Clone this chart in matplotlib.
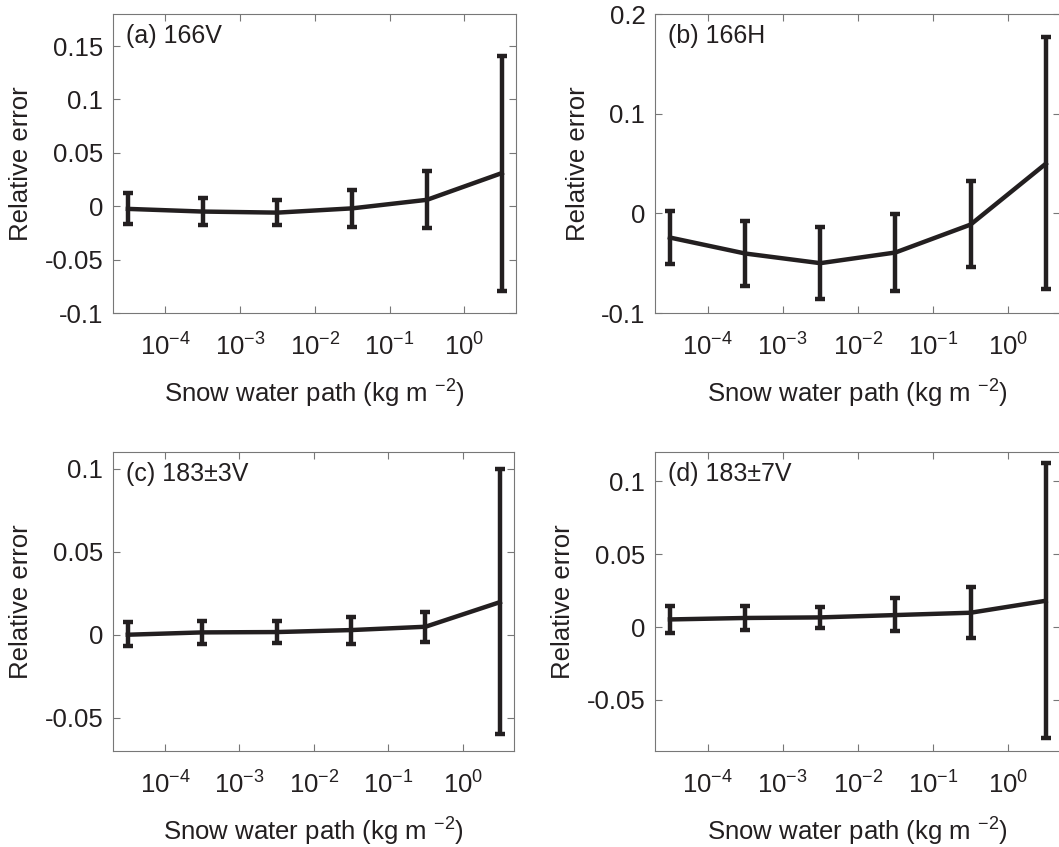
import numpy as np
import matplotlib
matplotlib.use("Agg")
import matplotlib.pyplot as plt
from matplotlib.ticker import FuncFormatter, NullLocator, FixedLocator

plt.rcParams['font.family'] = ['Liberation Sans', 'DejaVu Sans']
plt.rcParams['mathtext.default'] = 'regular'

# Snow water path bin centres (kg m^-2)
swp = [10**-4.5, 10**-3.5, 10**-2.5, 10**-1.5, 10**-0.5, 10**0.5]

titles = ["(a) 166V", "(b) 166H", "(c) 183\u00b13V", "(d) 183\u00b17V"]

mean_a = [-0.0025, -0.005, -0.006, -0.002, 0.006, 0.031]
upper_a = [0.012, 0.0078, 0.006, 0.015, 0.033, 0.141]
lower_a = [-0.0165, -0.018, -0.018, -0.019, -0.0206, -0.079]

mean_b = [-0.0243, -0.0403, -0.050, -0.0393, -0.0113, 0.0497]
upper_b = [0.0027, -0.0073, -0.0137, -0.0003, 0.032, 0.177]
lower_b = [-0.051, -0.0727, -0.086, -0.078, -0.0537, -0.076]

mean_c = [0.0, 0.0014, 0.0016, 0.0028, 0.0048, 0.0196]
upper_c = [0.0074, 0.008, 0.008, 0.0108, 0.0138, 0.100]
lower_c = [-0.007, -0.0056, -0.005, -0.0058, -0.0044, -0.060]

mean_d = [0.0052, 0.0062, 0.0066, 0.0082, 0.0098, 0.018]
upper_d = [0.0146, 0.0144, 0.0137, 0.0196, 0.0271, 0.1123]
lower_d = [-0.0043, -0.0023, -0.0007, -0.0027, -0.0077, -0.076]

yticks_a = [-0.1, -0.05, 0, 0.05, 0.1, 0.15]
yticks_b = [-0.1, 0, 0.1, 0.2]
yticks_c = [-0.05, 0, 0.05, 0.1]
yticks_d = [-0.05, 0, 0.05, 0.1]

ylims = [(-0.1, 0.18), (-0.1, 0.2), (-0.07, 0.11), (-0.085, 0.12)]

W, H = 1059, 847
fig = plt.figure(figsize=(W / 100, H / 100), dpi=100)

rects_px = [(113, 14, 516, 313), (655, 14, 1060, 313),
            (113, 452, 514, 751), (655, 452, 1060, 751)]

data = [(mean_a, lower_a, upper_a, yticks_a),
        (mean_b, lower_b, upper_b, yticks_b),
        (mean_c, lower_c, upper_c, yticks_c),
        (mean_d, lower_d, upper_d, yticks_d)]

line_col = '#231f20'
spine_col = '#777777'
fs = 18.5

for i, ((l, t, r, b), (m, lo, up, yt)) in enumerate(zip(rects_px, data)):
    ax = fig.add_axes([l / W, 1 - b / H, (r - l) / W, (b - t) / H])
    m = np.array(m); lo = np.array(lo); up = np.array(up)
    ax.errorbar(swp, m, yerr=[m - lo, up - m], color=line_col, lw=3.2,
                elinewidth=3.2, capsize=3.6, capthick=3.2)
    ax.set_xscale('log')
    ax.set_xlim(2e-5, 4.9)
    ax.set_ylim(*ylims[i])
    ax.xaxis.set_major_locator(FixedLocator([1e-4, 1e-3, 1e-2, 1e-1, 1e0]))
    ax.xaxis.set_minor_locator(NullLocator())
    ax.xaxis.set_major_formatter(FuncFormatter(
        lambda v, p: r'$10^{%d}$' % int(round(np.log10(v)))))
    ax.set_yticks(yt)
    ax.yaxis.set_major_formatter(FuncFormatter(lambda v, p: f'{v:g}'))
    ax.tick_params(direction='in', top=True, right=True, length=5,
                   width=0.8, color=spine_col, labelsize=fs,
                   labelcolor=line_col)
    ax.tick_params(axis='x', pad=15)
    ax.tick_params(axis='y', pad=7)
    for s in ax.spines.values():
        s.set_color(spine_col)
        s.set_linewidth(0.8)
    ax.set_ylabel('Relative error', fontsize=fs, color=line_col, labelpad=8)
    ax.set_xlabel('Snow water path (kg m $^{-2}$)', fontsize=fs,
                  color=line_col, labelpad=12)
    ax.text(0.032, 0.925, titles[i], transform=ax.transAxes, fontsize=18,
            color=line_col, va='center', ha='left')

fig.savefig('out.png', dpi=100)
